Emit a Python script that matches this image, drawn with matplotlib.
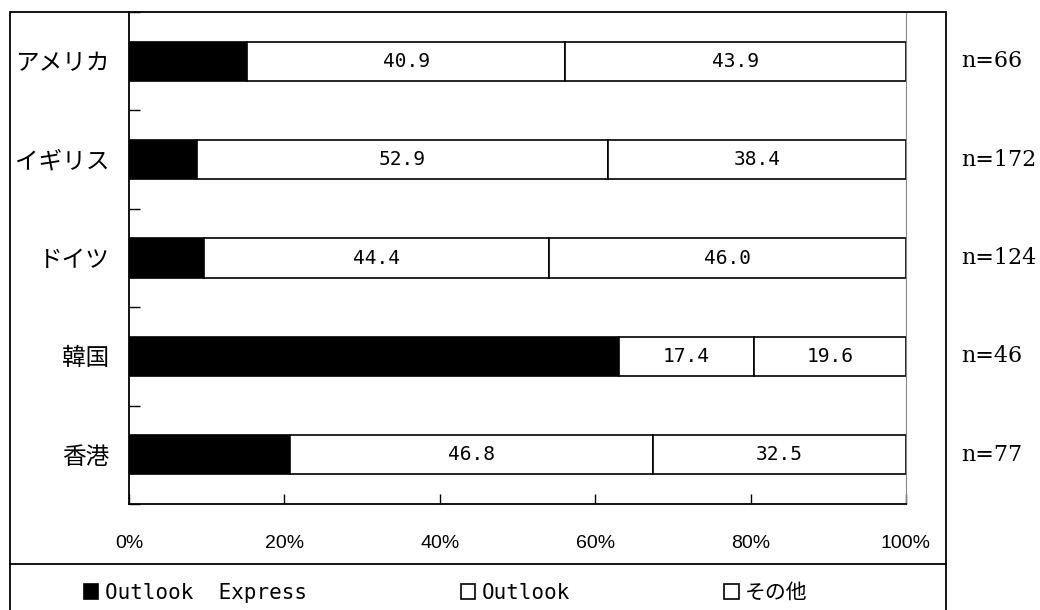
import matplotlib.pyplot as plt
from matplotlib.patches import Rectangle
from matplotlib.lines import Line2D
import numpy as np

countries = ['アメリカ', 'イギリス', 'ドイツ', '韓国', '香港']
sizes = ['n=66', 'n=172', 'n=124', 'n=46', 'n=77']
series_names = ['Outlook  Express', 'Outlook', 'その他']
express = [15.2, 8.7, 9.6, 63.0, 20.7]
outlook = [40.9, 52.9, 44.4, 17.4, 46.8]
other = [43.9, 38.4, 46.0, 19.6, 32.5]

jp = ['Noto Sans CJK JP', 'DejaVu Sans']
mono = ['DejaVu Sans Mono', 'Noto Sans CJK JP']

fig = plt.figure(figsize=(10.4, 6.1), dpi=100)
ax = fig.add_axes([129/1040, 1 - 504/610, 777/1040, 492/610])

y = np.arange(len(countries))
h = 0.4
b1 = ax.barh(y, express, h, color='black', edgecolor='black', linewidth=1.2, label=series_names[0])
b2 = ax.barh(y, outlook, h, left=express, color='white', edgecolor='black', linewidth=1.2,
             label=series_names[1])
left3 = np.array(express) + np.array(outlook)
b3 = ax.barh(y, other, h, left=left3, color='white', edgecolor='black', linewidth=1.2,
             label=series_names[2])

for bc in (b2, b3):
    ax.bar_label(bc, fmt='%.1f', label_type='center', fontsize=14, family=mono)

ax.set_xlim(0, 100)
ax.set_ylim(len(countries) - 0.5, -0.5)
ax.set_xticks(np.arange(0, 101, 20))
ax.set_xticklabels([f'{v}%' for v in range(0, 101, 20)], family='Liberation Sans', fontsize=14)
ax.tick_params(axis='x', direction='in', length=7, pad=22, width=1)
ax.set_yticks(y)
ax.set_yticklabels(countries, family=jp, fontsize=17)
ax.tick_params(axis='y', which='major', length=0, pad=14)
ax.set_yticks(np.arange(-0.5, len(countries), 1.0), minor=True)
ax.tick_params(axis='y', which='minor', direction='in', length=8, width=1)

ax.spines['top'].set_visible(False)
ax.spines['right'].set_color('#888888')
ax.spines['left'].set_linewidth(1.3)
ax.spines['bottom'].set_linewidth(1.3)

for i, s in enumerate(sizes):
    ax.annotate(s, xy=(1.0, y[i]), xycoords=('axes fraction', 'data'), xytext=(40, 0),
                textcoords='offset points', ha='left', va='center',
                family='DejaVu Serif', fontsize=16)

# outer frame and legend divider
fig.patches.append(Rectangle((10/1040, -0.1), 936/1040, 1.1 - 12/610, transform=fig.transFigure,
                             fill=False, edgecolor='black', linewidth=1.3))
fig.lines.append(Line2D([10/1040, 946/1040], [1 - 564/610] * 2, transform=fig.transFigure,
                        color='black', linewidth=1.3))

fig.legend(handles=[b1, b2, b3], loc='center left', bbox_to_anchor=(65/1040, 1 - 593/610),
           ncol=3, frameon=False, prop={'family': mono, 'size': 15},
           handlelength=0.7, handleheight=0.7, handletextpad=0.3, columnspacing=7.4)

fig.savefig('out.png', dpi=100)
